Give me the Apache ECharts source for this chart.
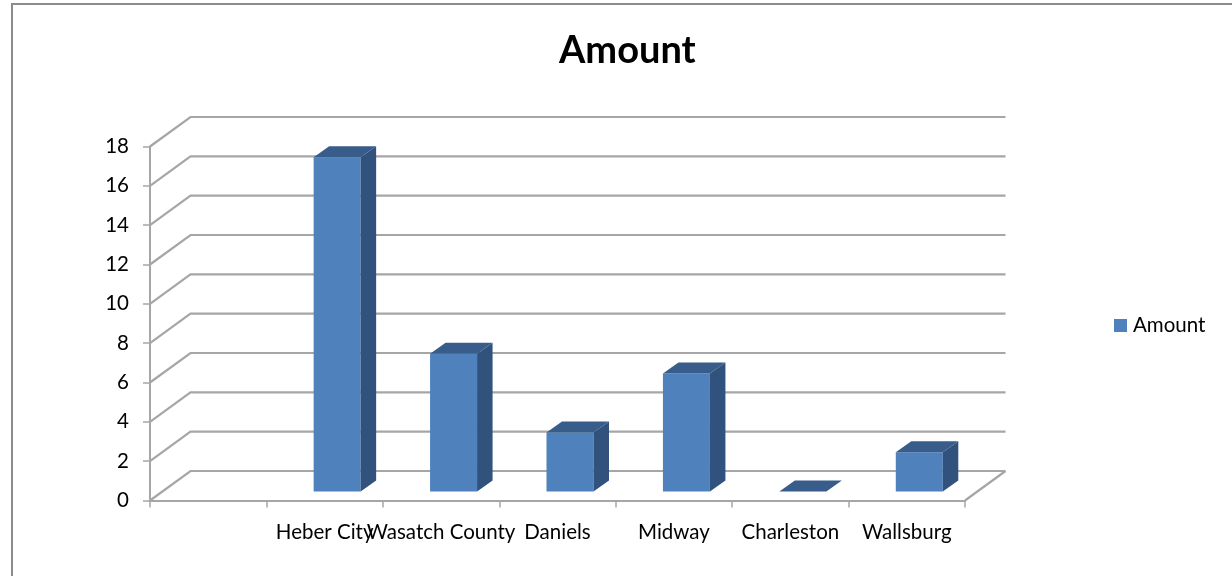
<!DOCTYPE html>
<html><head><meta charset="utf-8">
<style>html,body{margin:0;padding:0;background:#fff}#c{width:1232px;height:576px}</style>
<script src="https://cdn.jsdelivr.net/npm/echarts@6/dist/echarts.min.js"></script>
</head><body><div id="c"></div>
<script>
const categories = [' ', 'Heber City', 'Wasatch County', 'Daniels', 'Midway', 'Charleston', 'Wallsburg'];
const amounts = [null, 17, 7, 3, 6, 0, 2];
const wallTicks = [0, 2, 4, 6, 8, 10, 12, 14, 16, 18];

const FONT = 'Lato, "Open Sans", sans-serif';
const GRID = { left: 150, right: 1232 - 965, top: 146.5, bottom: 576 - 500.5 };
const WALL_DX = 40.5, WALL_DY = -29.5;
const BAR_DX = 12.5, BAR_DY = -9, BAR_W = 47, DEPTH_DX = 15.5, DEPTH_DY = -11;
const GREY = '#A6A6A6';

const chart = echarts.init(document.getElementById('c'));
chart.setOption({
  animation: false,
  backgroundColor: '#fff',
  title: { text: 'Amount', left: 554, top: 27,
    textStyle: { fontFamily: FONT, fontSize: 38, fontWeight: 'bold', color: '#000' } },
  legend: { data: ['Amount'], left: 1109, top: 310, itemWidth: 13, itemHeight: 13,
    icon: 'rect', textStyle: { fontFamily: FONT, fontSize: 20.5, color: '#000', padding: [0, 0, 0, 1] } },
  grid: GRID,
  xAxis: { type: 'category', data: categories,
    axisLine: { lineStyle: { color: GREY, width: 2 } },
    axisTick: { show: true, alignWithLabel: false, length: 7, lineStyle: { color: GREY, width: 1.5 } },
    axisLabel: { interval: 0, margin: 21, fontFamily: FONT, fontSize: 20.5, color: '#000', hideOverlap: false },
    splitLine: { show: false } },
  yAxis: { type: 'value', min: 0, max: 18, interval: 2,
    axisLine: { show: true, lineStyle: { color: GREY, width: 2 } },
    axisTick: { show: true, length: 7, lineStyle: { color: GREY, width: 1.5 } },
    axisLabel: { margin: 21, fontFamily: FONT, fontSize: 20.5, color: '#000' },
    splitLine: { show: false } },
  graphic: [{ type: 'polyline', silent: true, z: -1,
    shape: { points: [[12, 576], [12, 4], [1232, 4]] },
    style: { fill: null, stroke: '#8c8c8c', lineWidth: 2 } }],
  series: [
    { type: 'custom', name: 'walls', silent: true, z: 1,
      data: wallTicks.map(v => [0, v]),
      encode: { x: 0, y: 1 },
      renderItem(params, api) {
        const v = api.value(1);
        const band = api.size([1, 0])[0];
        const p = api.coord([0, v]);
        const x0 = p[0] - band / 2, x1 = x0 + band * categories.length, y = p[1];
        const children = [{ type: 'polyline',
          shape: { points: [[x0, y], [x0 + WALL_DX, y + WALL_DY], [x1 + WALL_DX, y + WALL_DY]] },
          style: { fill: null, stroke: GREY, lineWidth: 2.2 } }];
        if (v === 0) children.push({ type: 'line',
          shape: { x1: x1, y1: y, x2: x1 + WALL_DX, y2: y + WALL_DY },
          style: { stroke: GREY, lineWidth: 2.2 } });
        return { type: 'group', children };
      } },
    { type: 'custom', name: 'Amount', z: 2,
      itemStyle: { color: '#4F81BD' },
      data: amounts.map((v, i) => [i, v]),
      encode: { x: 0, y: 1 },
      renderItem(params, api) {
        if (api.value(1) === null || isNaN(api.value(1))) return;
        const top = api.coord([api.value(0), api.value(1)]);
        const base = api.coord([api.value(0), 0]);
        const l = top[0] + BAR_DX - BAR_W / 2, r = l + BAR_W;
        const t = top[1] + BAR_DY, b = base[1] + BAR_DY;
        return { type: 'group', children: [
          { type: 'rect', shape: { x: l, y: t, width: BAR_W, height: b - t }, style: { fill: '#4F81BD' } },
          { type: 'polygon', shape: { points: [[r, t], [r + DEPTH_DX, t + DEPTH_DY], [r + DEPTH_DX, b + DEPTH_DY], [r, b]] }, style: { fill: '#30527D' } },
          { type: 'polygon', shape: { points: [[l, t], [l + DEPTH_DX, t + DEPTH_DY], [r + DEPTH_DX, t + DEPTH_DY], [r, t]] }, style: { fill: '#385D8A' } }
        ] };
      } }
  ]
});
</script></body></html>
